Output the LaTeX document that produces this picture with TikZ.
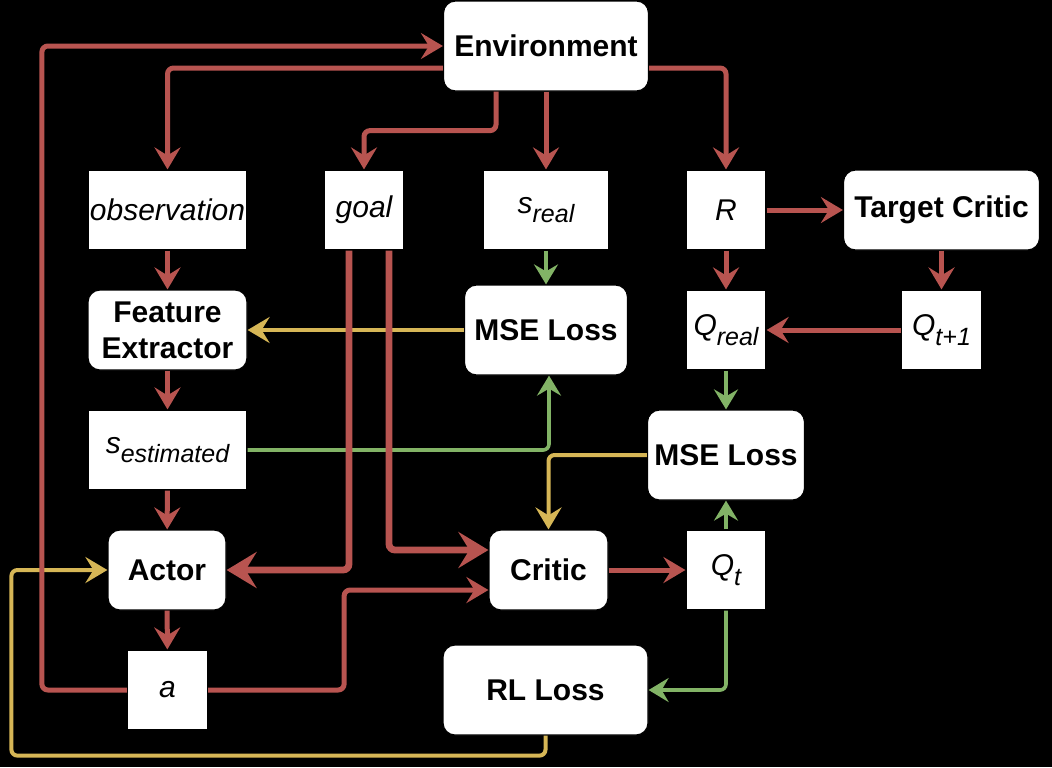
\documentclass[tikz,border=0pt]{standalone}
\usepackage{fontspec}
\setmainfont{Liberation Sans}
\usetikzlibrary{arrows.meta,calc}

\definecolor{flowred}{HTML}{B85450}
\definecolor{flowgreen}{HTML}{82B366}
\definecolor{flowyellow}{HTML}{D6B656}

\newcommand{\lowtxt}[1]{\raisebox{-0.32em}{\fontsize{12.5}{12.5}\selectfont #1}}

\begin{document}
\begin{tikzpicture}[x=0.5pt,y=-0.5pt,
  box/.style={draw=black,fill=white,line width=0.6pt,inner sep=0pt,align=center,
    font=\fontsize{15}{18}\selectfont\itshape},
  rbox/.style={box,rounded corners=6pt,font=\fontsize{15}{18}\selectfont\bfseries},
  redline/.style={draw=flowred,line width=2.5pt,rounded corners=3pt,
    -{Stealth[length=11pt,width=13pt,inset=4pt]}},
  redthick/.style={redline,line width=3.4pt,-{Stealth[length=15pt,width=18pt,inset=5.5pt]}},
  greenline/.style={draw=flowgreen,line width=1.8pt,rounded corners=3pt,
    -{Stealth[length=10pt,width=12pt,inset=3.5pt]}},
  yellowline/.style={draw=flowyellow,line width=2pt,rounded corners=3pt,
    -{Stealth[length=11pt,width=13pt,inset=4pt]}},
]

\fill[black] (0,0) rectangle (1052,767);

% top row
\node[rbox,minimum width=102.5pt,minimum height=45pt] (env) at (546,46) {Environment};
\node[box,minimum width=79.5pt,minimum height=40pt] (obs) at (167.5,210) {observation};
\node[box,minimum width=40pt,minimum height=40pt] (goal) at (364,210) {goal};
\node[box,minimum width=62.5pt,minimum height=40pt] (sreal) at (546,210) {s\lowtxt{real}};
\node[box,minimum width=40pt,minimum height=40pt] (rew) at (726,210) {R};
\node[rbox,minimum width=98pt,minimum height=40pt] (tcrit) at (941.5,210) {Target Critic};

% middle rows
\node[rbox,minimum width=79.5pt,minimum height=40pt] (fext) at (167.5,330) {Feature\\Extractor};
\node[rbox,minimum width=81.5pt,minimum height=45pt] (mse1) at (546,330) {MSE Loss};
\node[box,minimum width=40pt,minimum height=40pt] (qreal) at (726,330) {Q\lowtxt{real}};
\node[box,minimum width=40pt,minimum height=40pt] (qnext) at (941.5,330) {Q\lowtxt{t+1}};
\node[box,minimum width=79.5pt,minimum height=40pt] (sest) at (167.5,450) {s\lowtxt{estimated}};
\node[rbox,minimum width=78.5pt,minimum height=45pt] (mse2) at (726,455) {MSE Loss};

% bottom rows
\node[rbox,minimum width=59pt,minimum height=40pt] (actor) at (167,570) {Actor};
\node[rbox,minimum width=59.5pt,minimum height=40pt] (critic) at (548.5,570) {Critic};
\node[box,minimum width=40pt,minimum height=40pt] (qt) at (726,570) {Q\lowtxt{t}};
\node[box,minimum width=40pt,minimum height=40pt] (act) at (167.5,690) {a};
\node[rbox,minimum width=102.5pt,minimum height=45pt] (rlloss) at (545.5,690) {RL Loss};

% losses
\draw[greenline] (sreal) -- (mse1);
\draw[greenline] (sest.east) -| ([xshift=1.5pt]mse1.south);
\draw[greenline] (qreal) -- (mse2);
\draw[greenline] (qt) -- (mse2);
\draw[greenline] (qt.south) |- (rlloss.east);
\draw[yellowline] (mse1) -- (fext);
\draw[yellowline] (mse2.west) -| (critic.north);
\draw[yellowline] (rlloss.south) -- ++(0,20) -| ($(actor.west)+(-96,0)$) -- (actor.west);

% environment and agent
\draw[redline] ([yshift=-11pt]env.west) -| (obs.north);
\draw[redline] ([xshift=-25pt]env.south) -- ++(0,39) -| (goal.north);
\draw[redline] (env) -- (sreal);
\draw[redline] ([yshift=-11pt]env.east) -| (rew.north);
\draw[redline] (rew) -- (tcrit);
\draw[redline] (tcrit) -- (qnext);
\draw[redline] (qnext) -- (qreal);
\draw[redline] (rew) -- (qreal);
\draw[redline] (obs) -- (fext);
\draw[redline] (fext) -- (sest);
\draw[redline] (sest) -- (actor);
\draw[redline] (actor) -- (act);
\draw[redline] (critic) -- (qt);
\draw[redline] (act.west) -- ++(-85,0) |- (env.west);
\draw[redline] (act.east) -- ++(136,0) |- ([yshift=-10pt]critic.west);
\draw[redthick] ([xshift=-7.5pt]goal.south) |- (actor.east);
\draw[redthick] ([xshift=12.5pt]goal.south) |- ([yshift=10pt]critic.west);

\end{tikzpicture}
\end{document}
